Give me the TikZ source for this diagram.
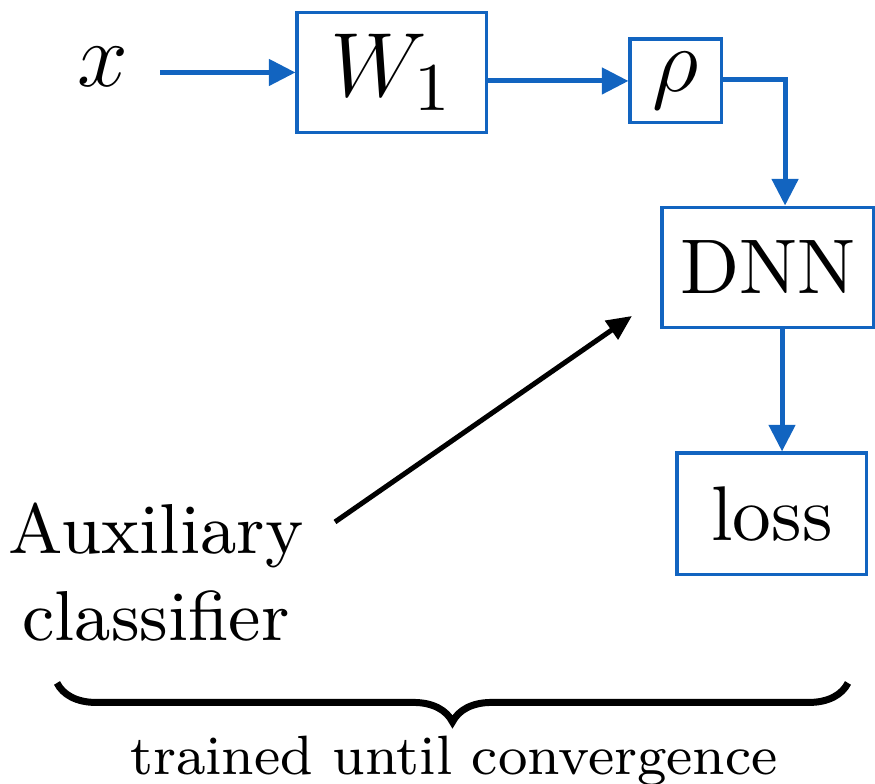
\documentclass[tikz,border=0pt]{standalone}
\definecolor{flowblue}{RGB}{18,100,192}
\usepackage{tikz}
\usetikzlibrary{arrows.meta,positioning,calc,decorations.pathreplacing}

\begin{document}
\begin{tikzpicture}[x=0.1316pt, y=-0.1316pt,
    blockbox/.style={draw=flowblue, line width=0.4pt, inner sep=0pt,
      font=\fontsize{10.2}{12}\selectfont},
    flow/.style={draw=flowblue, line width=0.66pt,
      -{Triangle[length=3.5pt,width=3.4pt]}},
    mathfont/.style={font=\fontsize{13.2}{16}\selectfont}]
    \useasboundingbox (0,0) rectangle (875,784);
    % Blocks along the path
    \node[mathfont, inner sep=0pt] (xin) at (103,67) {$x$};
    \node[blockbox, mathfont, minimum width=25pt, minimum height=15.9pt]
      (w1) at (392,72.5) {$W_1$};
    \node[blockbox, mathfont, minimum width=12.1pt, minimum height=11.05pt]
      (rho) at (676,81) {$\rho$};
    \node[blockbox, minimum width=27.9pt, minimum height=15.9pt]
      (dnn) at (768,267.5) {DNN};
    \node[blockbox, minimum width=25pt, minimum height=16.05pt]
      (loss) at (772,514) {loss};
    % Flow between blocks
    \draw[flow] ([xshift=4pt]xin.east |- w1.west) -- (w1.west);
    \draw[flow] (w1.east |- rho.west) -- (rho.west);
    \draw[flow] ([yshift=0.25pt]rho.east) -| ([xshift=2.25pt]dnn.north);
    \draw[flow] ([xshift=1.85pt]dnn.south) -- ([xshift=1.85pt]dnn.south |- loss.north);
    % Auxiliary classifier feeding the DNN
    \node[font=\fontsize{9.3}{11.4}\selectfont, align=center, inner sep=0pt]
      (aux) at (156,572) {Auxiliary\\classifier};
    \coordinate (auxtail) at (335,522);
    \coordinate (auxhead) at (632,316);
    \draw[line width=0.66pt, -{Triangle[length=3.3pt,width=2.9pt]}]
      (auxtail) -- (auxhead);
    % Brace over the whole training setup
    \coordinate (brl) at (57,683);
    \coordinate (brr) at (848,683);
    \draw[decorate, decoration={brace, amplitude=5.13pt, mirror},
      line width=0.92pt] (brl) -- (brr);
    \node[inner sep=0pt] (conv) at (454,761)
      {\scalebox{0.912}{\fontsize{8}{9}\selectfont trained until convergence}};
\end{tikzpicture}
\end{document}
